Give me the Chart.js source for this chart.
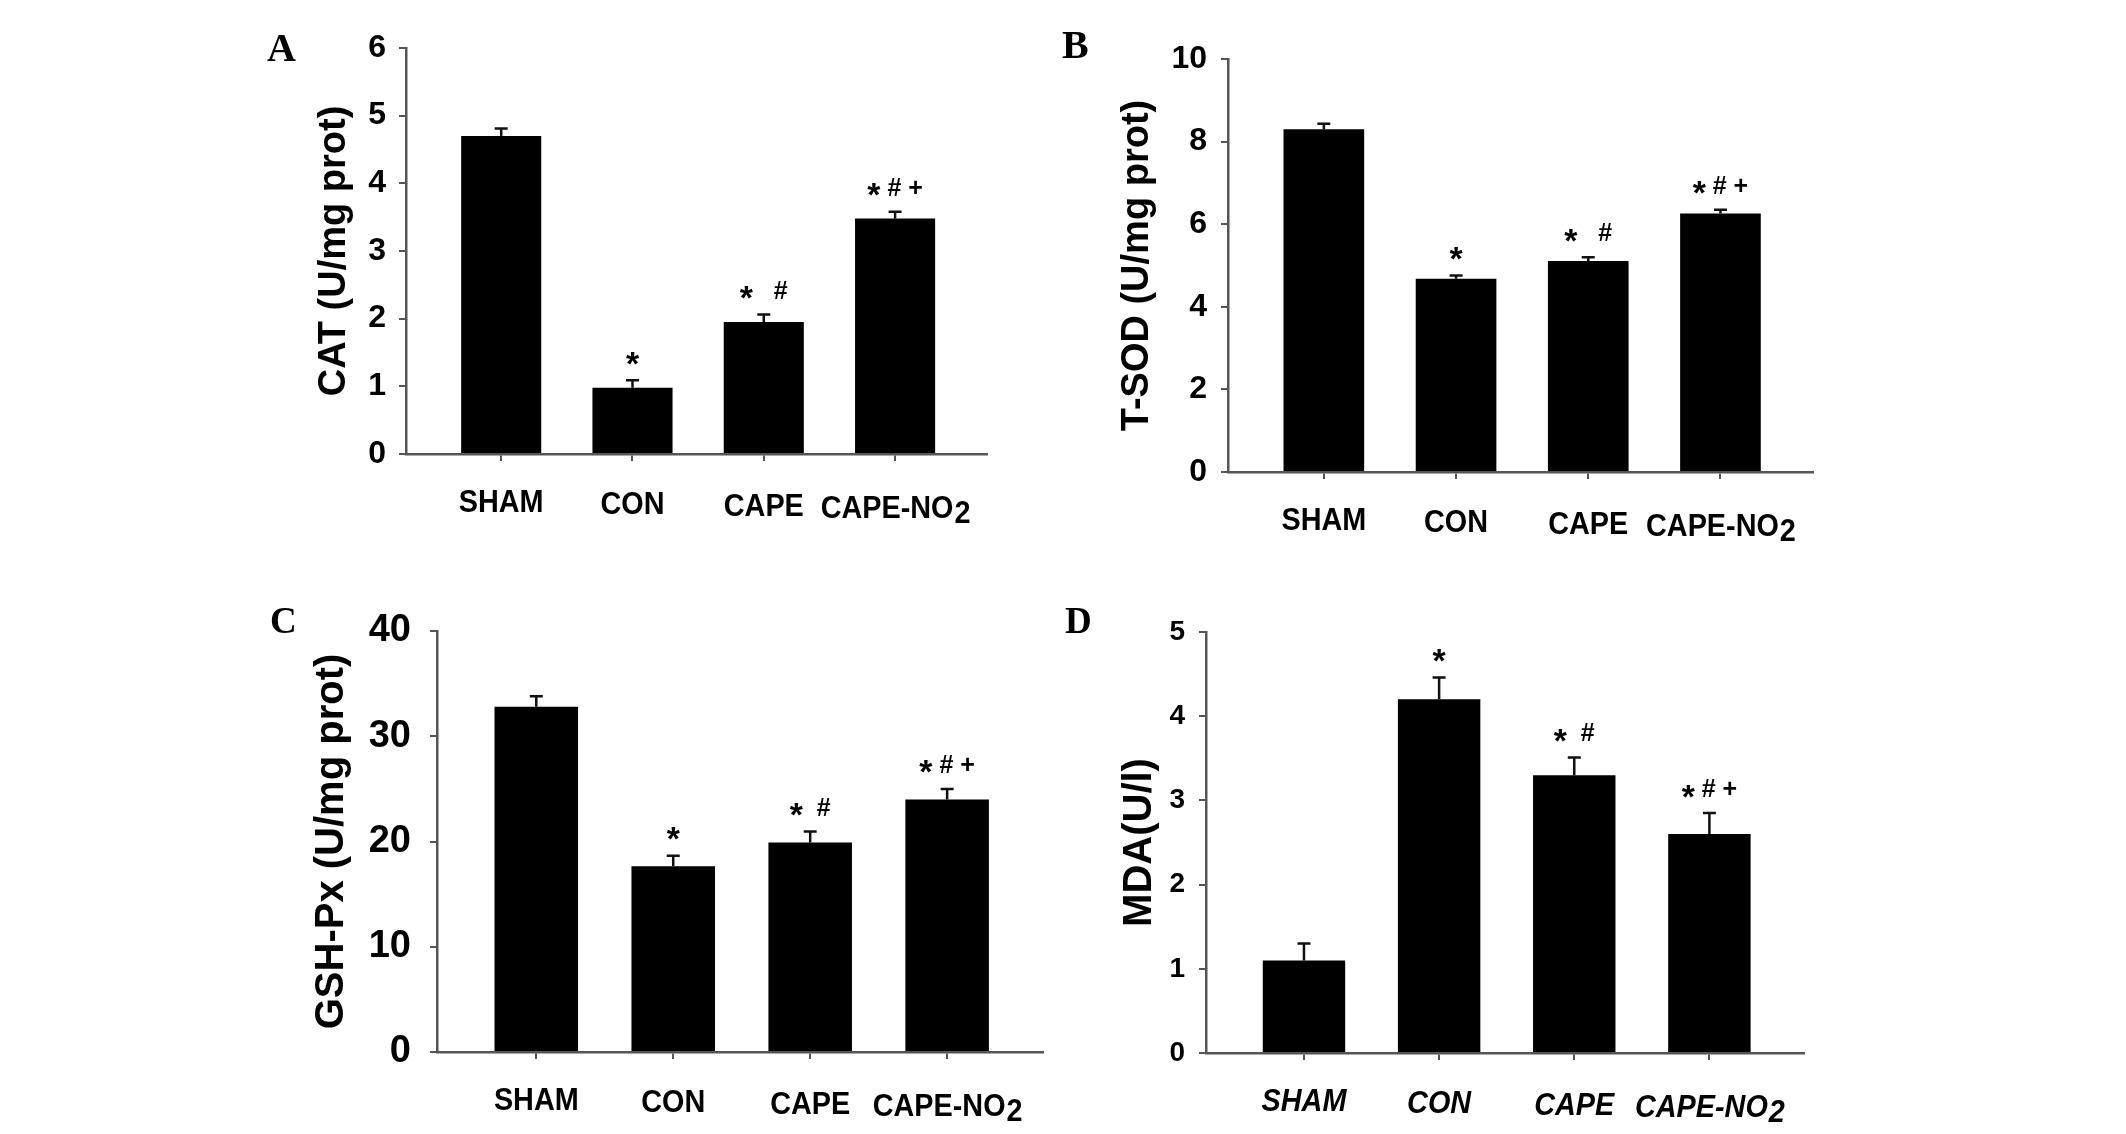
<!DOCTYPE html>
<html><head><meta charset="utf-8">
<script src="https://cdn.jsdelivr.net/npm/chart.js@4.4.1/dist/chart.umd.min.js"></script>
<style>
html,body{margin:0;padding:0;background:#fff;width:2126px;height:1134px;overflow:hidden;position:relative}
canvas{position:absolute}
</style></head><body>
<canvas id="cA" width="1050" height="567" style="left:0;top:0"></canvas>
<canvas id="cB" width="1076" height="567" style="left:1050px;top:0"></canvas>
<canvas id="cC" width="1050" height="567" style="left:0;top:567px"></canvas>
<canvas id="cD" width="1076" height="567" style="left:1050px;top:567px"></canvas>
<script>
// ---- data ----
const categories = ['SHAM', 'CON', 'CAPE', 'CAPE-NO2'];

const catValues = [4.70, 0.98, 1.95, 3.48];
const catErrors = [0.11, 0.11, 0.11, 0.10];
const catMarks  = ['', '*', '*   #', '* # +'];
const catTicks  = [0, 1, 2, 3, 4, 5, 6];

const sodValues = [8.30, 4.68, 5.11, 6.26];
const sodErrors = [0.13, 0.08, 0.09, 0.09];
const sodMarks  = ['', '*', '*   #', '* # +'];
const sodTicks  = [0, 2, 4, 6, 8, 10];

const gshValues = [32.8, 17.65, 19.9, 24.0];
const gshErrors = [1.0, 1.0, 1.05, 1.0];
const gshMarks  = ['', '*', '*  #', '* # +'];
const gshTicks  = [0, 10, 20, 30, 40];

const mdaValues = [1.10, 4.20, 3.30, 2.60];
const mdaErrors = [0.20, 0.26, 0.21, 0.25];
const mdaMarks  = ['', '*', '*  #', '* # +'];
const mdaTicks  = [0, 1, 2, 3, 4, 5];

// ---- styling / layout ----
const FONT = '"Liberation Sans", Arial, Helvetica, sans-serif';
const SERIF = '"Liberation Serif", "Times New Roman", serif';

function drawMarks(ctx, str, cx, cy, fs) {
  const parts = [];
  let total = 0;
  for (const ch of str) {
    const size = ch === '*' ? fs * 1.35 : fs;
    ctx.font = 'bold ' + size + 'px ' + FONT;
    const w = ctx.measureText(ch).width;
    parts.push({ch, size, w});
    total += w;
  }
  let x = cx - total / 2;
  ctx.textAlign = 'left';
  ctx.textBaseline = 'alphabetic';
  for (const p of parts) {
    if (p.ch !== ' ') {
      ctx.font = 'bold ' + p.size + 'px ' + FONT;
      const base = p.ch === '*' ? cy + 0.58 * p.size : cy + 0.36 * p.size;
      ctx.fillText(p.ch, x, base);
    }
    x += p.w;
  }
}

function makeChart(id, o) {
  const canvas = document.getElementById(id);
  const W = 150, H = 60;
  const cw = canvas.width, ch = canvas.height;
  const pl = o.PL - o.ox - W, pr = o.ox + cw - o.PR, pt = o.PT - o.oy, pb = o.oy + ch - o.PB - H;
  const lh = o.titleSize * 1.2;
  const tpad = o.titleX - (o.PL - W) - lh / 2;

  const overlay = {
    id: 'overlay' + id,
    afterDatasetsDraw(chart) {
      const ctx = chart.ctx, xs = chart.scales.x, ys = chart.scales.y;
      ctx.save();
      ctx.strokeStyle = '#111';
      ctx.lineWidth = 2.5;
      o.values.forEach((v, i) => {
        const x = xs.getPixelForValue(i);
        const yb = ys.getPixelForValue(v);
        const yt = ys.getPixelForValue(v + o.errors[i]);
        ctx.beginPath();
        ctx.moveTo(x, yb); ctx.lineTo(x, yt);
        ctx.moveTo(x - 6.5, yt); ctx.lineTo(x + 6.5, yt);
        ctx.stroke();
        if (o.marks[i]) {
          ctx.fillStyle = '#000';
          drawMarks(ctx, o.marks[i], x, yt - 25, 25);
        }
      });
      ctx.restore();
    },
    afterDraw(chart) {
      const ctx = chart.ctx, xs = chart.scales.x;
      ctx.save();
      ctx.fillStyle = '#000';
      // panel letter
      ctx.font = 'bold ' + o.letterSize + 'px ' + SERIF;
      ctx.textAlign = 'left';
      ctx.textBaseline = 'alphabetic';
      ctx.fillText(o.letter, o.letterX - o.ox, o.letterY - o.oy);
      // category labels (condensed bold, trailing digits lowered)
      const sx = 0.9;
      ctx.font = (o.italic ? 'italic ' : '') + 'bold 32px ' + FONT;
      const base = chart.chartArea.bottom + 58;
      categories.forEach((lab, i) => {
        const cx = xs.getPixelForValue(i);
        const m = lab.match(/^(.*?[A-Za-z])(\d+)$/);
        const main = m ? m[1] : lab, sub = m ? m[2] : '';
        const w1 = ctx.measureText(main).width, w2 = sub ? ctx.measureText(sub).width : 0;
        const tw = (w1 + w2) * sx;
        const y = base + i * 2;
        ctx.save();
        ctx.translate(cx - tw / 2, y);
        ctx.scale(sx, 1);
        ctx.fillText(main, 0, 0);
        if (sub) ctx.fillText(sub, w1 + 1, 5);
        ctx.restore();
      });
      ctx.restore();
    }
  };

  return new Chart(canvas, {
    type: 'bar',
    data: {
      datasets: [{
        data: categories.map((c, i) => ({x: i, y: o.values[i]})),
        backgroundColor: '#000',
        borderWidth: 0,
        barPercentage: 0.61,
        categoryPercentage: 1
      }]
    },
    options: {
      responsive: false,
      animation: false,
      devicePixelRatio: 1,
      layout: {padding: {left: pl, right: pr, top: pt, bottom: pb}},
      plugins: {legend: {display: false}, tooltip: {enabled: false}},
      scales: {
        x: {
          type: 'linear', min: -0.725, max: 3.70, offset: false,
          afterBuildTicks: s => { s.ticks = categories.map((c, i) => ({value: i})); },
          afterFit: s => { s.height = H; },
          ticks: {display: false},
          grid: {display: true, drawOnChartArea: false, drawTicks: true, tickLength: 7, color: '#555', lineWidth: 2, offset: false},
          border: {display: true, color: '#555', width: 2.5}
        },
        y: {
          type: 'linear', min: o.ticks[0], max: o.ticks[o.ticks.length - 1],
          afterBuildTicks: s => { s.ticks = o.ticks.map(v => ({value: v})); },
          afterFit: s => { s.width = W; },
          ticks: {color: '#000', font: {family: FONT, size: o.tickSize, weight: 'bold'}, padding: o.tickPad, autoSkip: false},
          grid: {display: true, drawOnChartArea: false, drawTicks: true, tickLength: 7, color: '#555', lineWidth: 2},
          border: {display: true, color: '#555', width: 2.5},
          title: {display: true, text: o.title, color: '#000', font: {family: FONT, size: o.titleSize, weight: 'bold'}, padding: {top: tpad, bottom: 0}}
        }
      }
    },
    plugins: [overlay]
  });
}

makeChart('cA', {ox: 0, oy: 0, PL: 406, PR: 987, PT: 48, PB: 454, titleX: 335,
  values: catValues, errors: catErrors, marks: catMarks, ticks: catTicks,
  title: 'CAT (U/mg prot)', titleSize: 38, tickSize: 32, tickPad: 13,
  letter: 'A', letterSize: 40, letterX: 267, letterY: 61, italic: false});

makeChart('cB', {ox: 1050, oy: 0, PL: 1228, PR: 1813, PT: 59, PB: 472, titleX: 1138,
  values: sodValues, errors: sodErrors, marks: sodMarks, ticks: sodTicks,
  title: 'T-SOD (U/mg prot)', titleSize: 38, tickSize: 32, tickPad: 14,
  letter: 'B', letterSize: 40, letterX: 1062, letterY: 58, italic: false});

makeChart('cC', {ox: 0, oy: 567, PL: 437, PR: 1043, PT: 631, PB: 1052, titleX: 332,
  values: gshValues, errors: gshErrors, marks: gshMarks, ticks: gshTicks,
  title: 'GSH-Px (U/mg prot)', titleSize: 40, tickSize: 38, tickPad: 19,
  letter: 'C', letterSize: 37, letterX: 270, letterY: 633, italic: false});

makeChart('cD', {ox: 1050, oy: 567, PL: 1206, PR: 1804, PT: 632, PB: 1053, titleX: 1140,
  values: mdaValues, errors: mdaErrors, marks: mdaMarks, ticks: mdaTicks,
  title: 'MDA(U/l)', titleSize: 40, tickSize: 28, tickPad: 14,
  letter: 'D', letterSize: 37, letterX: 1065, letterY: 633, italic: true});
</script>
</body></html>
